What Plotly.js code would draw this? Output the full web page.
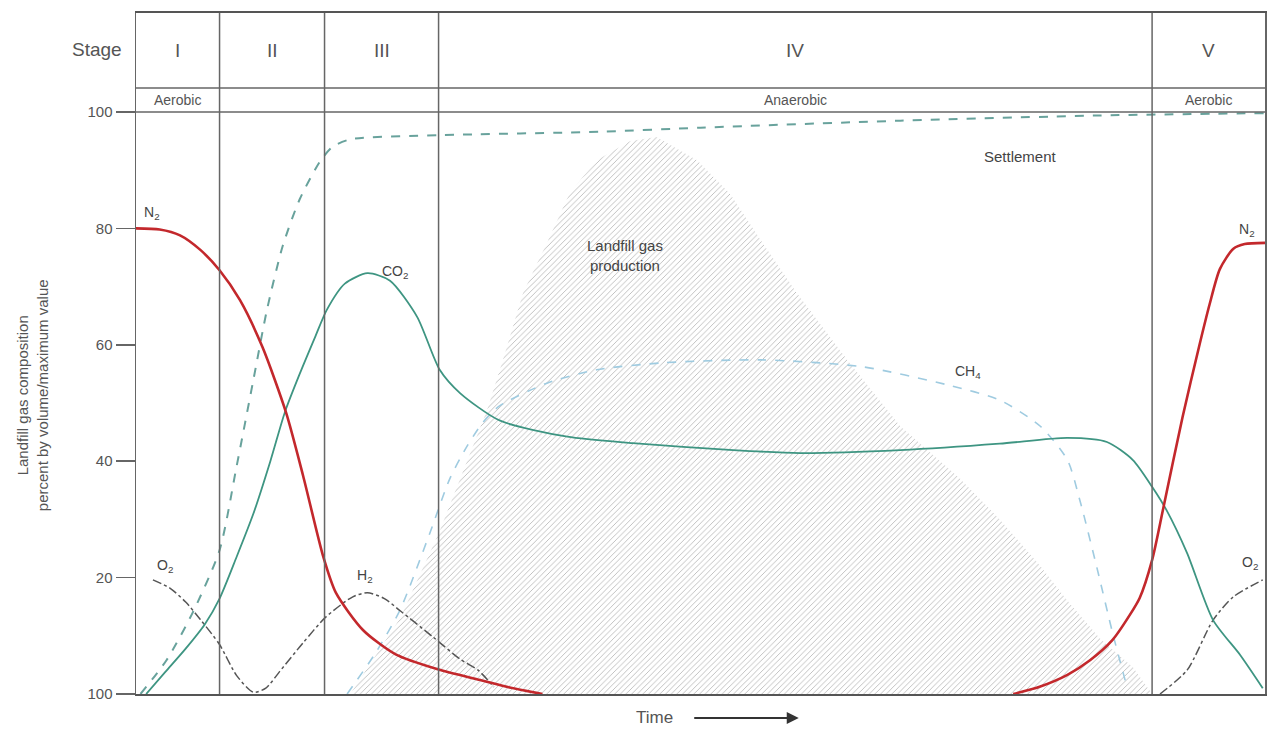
<!DOCTYPE html>
<html>
<head>
<meta charset="utf-8">
<script src="https://cdn.plot.ly/plotly-3.0.1.min.js"></script>
<style>
  html, body { margin: 0; padding: 0; background: #ffffff; }
  #chart { width: 1268px; height: 736px; }
</style>
</head>
<body>
<div id="chart"></div>
<script>
// ---- Data (time in arbitrary units 0..100, composition in %) ----
const stageBounds = [0, 7.4, 16.7, 26.8, 90, 100];
const stageNames = ['I', 'II', 'III', 'IV', 'V'];
const phaseNames = ['Aerobic', '', '', 'Anaerobic', 'Aerobic'];

const yTickVals = [0, 20, 40, 60, 80, 100];
const yTickText = ['100', '20', '40', '60', '80', '100'];

const n2Time = [0.0, 2.1, 3.9, 5.7, 7.4, 9.2, 11.2, 13.3, 14.8, 16.6, 17.7, 20.1, 23.0, 26.8, 30.5, 33.1, 36.0,
                null,
                77.7, 80.1, 82.5, 84.5, 86.5, 88.0, 88.9, 90.0, 91.0, 92.7, 94.2, 95.1, 96.0, 97.2, 98.2, 100];
const n2Value = [80, 79.8, 78.8, 76.3, 72.8, 67.7, 59.6, 48.3, 37.5, 23.5, 17.4, 11, 6.8, 4.2, 2.4, 1.1, 0,
                 null,
                 0, 1.3, 3.3, 5.8, 9.3, 13.5, 16.5, 23, 32, 47.6, 60, 67, 73, 76.5, 77.3, 77.5];

const co2Time = [0.9, 2.6, 4.4, 6.1, 7.4, 8.9, 10.4, 11.9, 13.2, 14.5, 15.9, 16.9, 18.5, 20.5, 22.5, 24.9, 26.9,
                 28.7, 32.2, 38.2, 44.0, 52.9, 58.8, 67.7, 76.5, 82.5, 86.0, 88.3, 90.0, 91.3, 93.1, 95.4, 97.8, 99.8];
const co2Value = [0, 3.8, 7.8, 12, 16.4, 23.5, 31, 40, 48.5, 55, 61.5, 66, 70.5, 72.3, 71, 64.8, 55.7,
                  51.7, 47, 44.2, 43.1, 41.9, 41.4, 41.9, 43, 44, 43.3, 40.2, 35.6, 31.5, 24.2, 12.7, 6.7, 1];

const settleTime = [0.4, 2.7, 5.0, 7.4, 8.9, 10.4, 11.6, 13.0, 14.5, 16.3, 17.4, 19.0, 26.9, 41.1, 50.0, 67.7, 85.4, 100];
const settleValue = [0, 5.8, 13.9, 24.7, 39, 54, 66, 77, 85, 91.5, 94, 95.3, 96, 96.6, 97.3, 98.5, 99.4, 99.8];

const ch4Time = [18.7, 21.2, 23.4, 26.0, 27.8, 29.3, 30.7, 32.2, 36.4, 40.8, 46.7, 55.5, 64.4, 72.1, 76.5, 80.1,
                 82.5, 83.6, 85.1, 86.5, 87.8];
const ch4Value = [0, 7, 14.5, 27.5, 37, 42.5, 46.6, 49.5, 53.4, 55.7, 56.9, 57.4, 56.2, 53, 50.5, 46,
                  40.2, 33.3, 21.8, 10.5, 1];

const o2h2Time = [1.5, 3.0, 4.4, 5.7, 7.4, 8.9, 10.4, 11.5, 12.7, 14.8, 16.8, 19.2, 20.5, 22.0, 23.4, 26.3, 28.7, 30.3, 31.7];
const o2h2Value = [19.6, 18.2, 15.8, 12.8, 8.5, 3.2, 0.3, 1.0, 3.8, 8.8, 13.2, 16.7, 17.4, 16.4, 14.3, 9.8, 6, 4.1, 1.2];

const o2EndTime = [90.7, 93.1, 95.4, 97.2, 99.8];
const o2EndValue = [0, 4.1, 12.7, 16.7, 19.6];

const gasTime = [19.0, 23.4, 26.9, 31.1, 32.5, 34.3, 36.4, 38.4, 40.8, 43.8, 46.1, 49.7, 52.6, 55.5, 58.5, 63.0,
                 67.7, 73.0, 76.5, 80.1, 82.5, 85.4, 88.3, 90.0];
const gasValue = [0, 13, 28, 48.8, 57.4, 69, 77.5, 86, 91.7, 95, 95.7, 91.7, 86, 77.5, 69, 57.4,
                  46, 37, 30, 22, 16, 9.5, 4.6, 0];

// ---- Label positions ----
const curveLabels = [
  {text: 'N<sub>2</sub>', x: 1.4, y: 82.6},
  {text: 'CO<sub>2</sub>', x: 22.9, y: 72.5},
  {text: 'H<sub>2</sub>', x: 20.3, y: 20.3},
  {text: 'O<sub>2</sub>', x: 2.6, y: 22.0},
  {text: 'CH<sub>4</sub>', x: 73.7, y: 55.3},
  {text: 'N<sub>2</sub>', x: 98.4, y: 79.7},
  {text: 'O<sub>2</sub>', x: 98.7, y: 22.5}
];

const FONT = '"Liberation Sans", Arial, sans-serif';
const GRID = '#666666';
const SM = 0.7;

const traces = [
  {
    x: gasTime, y: gasValue, type: 'scatter', mode: 'lines', fill: 'toself',
    line: {width: 0, color: 'rgba(0,0,0,0)'},
    fillcolor: 'rgba(0,0,0,0)',
    fillpattern: {shape: '/', fgcolor: '#b4b4b4', bgcolor: 'rgba(255,255,255,0)', size: 4, solidity: 0.2},
    hoverinfo: 'skip', showlegend: false
  },
  {
    x: settleTime, y: settleValue, type: 'scatter', mode: 'lines',
    line: {color: '#68a29c', width: 2, dash: 'dash', shape: 'spline', smoothing: SM},
    showlegend: false
  },
  {
    x: ch4Time, y: ch4Value, type: 'scatter', mode: 'lines',
    line: {color: '#9fcbe0', width: 1.6, dash: 'dash', shape: 'spline', smoothing: SM},
    showlegend: false
  },
  {
    x: o2h2Time, y: o2h2Value, type: 'scatter', mode: 'lines',
    line: {color: '#555555', width: 1.5, dash: 'dashdot', shape: 'spline', smoothing: SM},
    showlegend: false
  },
  {
    x: o2EndTime, y: o2EndValue, type: 'scatter', mode: 'lines',
    line: {color: '#555555', width: 1.5, dash: 'dashdot', shape: 'spline', smoothing: SM},
    showlegend: false
  },
  {
    x: co2Time, y: co2Value, type: 'scatter', mode: 'lines',
    line: {color: '#3e9582', width: 1.8, shape: 'spline', smoothing: SM},
    showlegend: false
  },
  {
    x: n2Time, y: n2Value, type: 'scatter', mode: 'lines', connectgaps: false,
    line: {color: '#c3282c', width: 2.6, shape: 'spline', smoothing: SM},
    showlegend: false
  }
];

const shapes = [];
for (let i = 1; i < stageBounds.length - 1; i++) {
  shapes.push({type: 'line', xref: 'x', yref: 'y', x0: stageBounds[i], x1: stageBounds[i], y0: 0, y1: 117,
               line: {color: GRID, width: 1.5}, layer: 'above'});
}
[100, 104.1].forEach(v => {
  shapes.push({type: 'line', xref: 'x', yref: 'y', x0: 0, x1: 100, y0: v, y1: v,
               line: {color: GRID, width: 1.5}, layer: 'above'});
});

const annotations = [];
for (let i = 0; i < stageNames.length; i++) {
  const mid = (stageBounds[i] + stageBounds[i + 1]) / 2;
  annotations.push({x: mid, y: 110.6, xref: 'x', yref: 'y', text: stageNames[i], showarrow: false,
                    xanchor: 'center', yanchor: 'middle',
                    font: {family: FONT, size: 19, color: '#555'}});
  if (phaseNames[i]) {
    annotations.push({x: mid, y: 102.1, xref: 'x', yref: 'y', text: phaseNames[i], showarrow: false,
                      xanchor: 'center', yanchor: 'middle',
                      font: {family: FONT, size: 14, color: '#555'}});
  }
}
curveLabels.forEach(l => annotations.push({x: l.x, y: l.y, xref: 'x', yref: 'y', text: l.text, showarrow: false,
                                           xanchor: 'center', yanchor: 'middle',
                                           font: {family: FONT, size: 14, color: '#444'}}));
annotations.push({x: 43.3, y: 75.4, xref: 'x', yref: 'y', text: 'Landfill gas<br>production', showarrow: false,
                  xanchor: 'center', yanchor: 'middle',
                  font: {family: FONT, size: 15, color: '#444'}});
annotations.push({x: 78.3, y: 92.3, xref: 'x', yref: 'y', text: 'Settlement', showarrow: false,
                  xanchor: 'center', yanchor: 'middle',
                  font: {family: FONT, size: 15, color: '#444'}});
annotations.push({x: -0.0345, y: 0.9457, xref: 'paper', yref: 'paper', text: 'Stage', showarrow: false,
                  xanchor: 'center', yanchor: 'middle',
                  font: {family: FONT, size: 19, color: '#555'}});
annotations.push({x: -0.092, y: 0.439, xref: 'paper', yref: 'paper',
                  text: 'Landfill gas composition<br>percent by volume/maximum value',
                  xanchor: 'center', yanchor: 'middle',
                  textangle: -90, showarrow: false, font: {family: FONT, size: 15, color: '#555'}});
annotations.push({x: 0.4595, y: -0.0352, xref: 'paper', yref: 'paper', text: 'Time', showarrow: false,
                  xanchor: 'center', yanchor: 'middle',
                  font: {family: '"Liberation Sans Narrow", "Liberation Sans", Arial, sans-serif', size: 17, color: '#555'}});
annotations.push({x: 0.587, y: -0.0352, xref: 'paper', yref: 'paper', text: '', showarrow: true,
                  ax: -106, ay: 0, arrowhead: 2, arrowsize: 1.2, arrowwidth: 2, arrowcolor: '#333'});

const layout = {
  width: 1268, height: 736,
  margin: {l: 136, r: 3, t: 13, b: 42},
  paper_bgcolor: '#ffffff', plot_bgcolor: '#ffffff',
  font: {family: FONT, color: '#555'},
  xaxis: {range: [0, 100], showgrid: false, zeroline: false, showticklabels: false, ticks: '',
          showline: true, linecolor: '#555', linewidth: 2, mirror: true, fixedrange: true},
  yaxis: {range: [0, 117], showgrid: false, zeroline: false, tickvals: yTickVals, ticktext: yTickText,
          ticks: 'outside', ticklen: 19, tickcolor: '#666', tickwidth: 1.5,
          tickfont: {family: FONT, size: 15, color: '#555'},
          showline: true, linecolor: GRID, linewidth: 1.5, mirror: true, fixedrange: true},
  shapes: shapes,
  annotations: annotations,
  showlegend: false
};

Plotly.newPlot('chart', traces, layout, {displayModeBar: false, staticPlot: true});
</script>
</body>
</html>
